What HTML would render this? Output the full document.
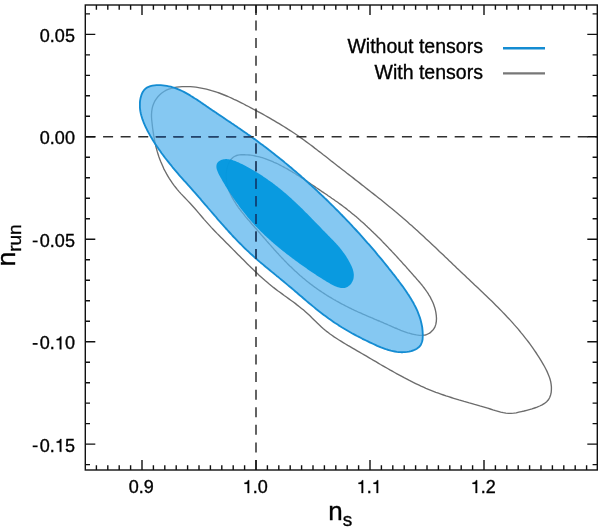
<!DOCTYPE html>
<html><head><meta charset="utf-8"><title>ns nrun</title>
<style>
html,body{margin:0;padding:0;background:#fff;}
body{width:600px;height:527px;overflow:hidden;}
svg{display:block;will-change:transform;}
text{font-family:"Liberation Sans",sans-serif;fill:#000;stroke:#000;stroke-width:0.35px;}
</style></head><body>
<svg width="600" height="527" viewBox="0 0 600 527">
<rect width="600" height="527" fill="#ffffff"/>
<g fill="none" stroke="#6c6c6c" stroke-width="1.35">
<path d="M187.7 86.6 L190.4 86.7 L193.2 86.9 L195.9 87.2 L198.5 87.6 L201.2 88.1 L203.8 88.6 L206.4 89.2 L209.0 89.8 L211.6 90.6 L214.1 91.3 L216.7 92.2 L219.2 93.0 L221.7 94.0 L224.2 95.0 L226.7 96.0 L229.1 97.0 L231.6 98.1 L234.0 99.3 L236.5 100.4 L238.9 101.6 L241.3 102.8 L243.7 104.0 L246.1 105.3 L248.5 106.5 L250.9 107.8 L253.3 109.1 L255.7 110.3 L258.0 111.6 L260.4 112.9 L262.8 114.2 L265.1 115.5 L267.5 116.9 L269.8 118.2 L272.2 119.6 L274.5 120.9 L276.8 122.3 L279.2 123.7 L281.5 125.1 L283.8 126.5 L286.0 127.9 L288.3 129.4 L290.6 130.8 L292.8 132.3 L295.1 133.8 L297.3 135.3 L299.5 136.9 L301.7 138.4 L303.9 140.0 L306.1 141.6 L308.3 143.2 L310.4 144.8 L312.6 146.4 L314.7 148.1 L316.9 149.7 L319.0 151.4 L321.2 153.0 L323.3 154.7 L325.4 156.3 L327.6 158.0 L329.7 159.7 L331.8 161.4 L333.9 163.0 L336.1 164.7 L338.2 166.4 L340.3 168.0 L342.5 169.7 L344.6 171.3 L346.7 173.0 L348.8 174.6 L351.0 176.3 L353.1 177.9 L355.2 179.6 L357.4 181.3 L359.5 182.9 L361.6 184.6 L363.8 186.2 L365.9 187.9 L368.0 189.6 L370.1 191.2 L372.2 192.9 L374.4 194.6 L376.5 196.2 L378.6 197.9 L380.7 199.6 L382.8 201.3 L384.9 203.0 L387.0 204.7 L389.1 206.4 L391.1 208.1 L393.2 209.8 L395.3 211.6 L397.4 213.3 L399.4 215.0 L401.5 216.8 L403.5 218.5 L405.6 220.3 L407.6 222.1 L409.6 223.9 L411.6 225.6 L413.7 227.4 L415.7 229.3 L417.7 231.1 L419.7 232.9 L421.7 234.7 L423.7 236.5 L425.6 238.4 L427.6 240.2 L429.6 242.1 L431.6 243.9 L433.5 245.8 L435.5 247.6 L437.5 249.5 L439.4 251.4 L441.4 253.2 L443.4 255.1 L445.3 257.0 L447.3 258.8 L449.2 260.7 L451.2 262.6 L453.1 264.5 L455.1 266.3 L457.0 268.2 L459.0 270.1 L461.0 271.9 L462.9 273.8 L464.9 275.6 L466.8 277.5 L468.8 279.3 L470.8 281.2 L472.7 283.0 L474.7 284.9 L476.7 286.7 L478.6 288.6 L480.6 290.4 L482.5 292.3 L484.5 294.2 L486.4 296.0 L488.4 297.9 L490.3 299.8 L492.2 301.6 L494.1 303.5 L496.0 305.4 L497.9 307.3 L499.8 309.2 L501.7 311.1 L503.5 313.1 L505.4 315.0 L507.2 317.0 L509.1 318.9 L510.9 320.9 L512.7 322.9 L514.4 324.9 L516.2 326.9 L518.0 328.9 L519.7 331.0 L521.4 333.1 L523.1 335.1 L524.8 337.3 L526.4 339.4 L528.1 341.5 L529.7 343.7 L531.3 345.9 L532.9 348.1 L534.4 350.3 L535.9 352.5 L537.4 354.8 L538.9 357.1 L540.3 359.4 L541.8 361.8 L543.1 364.1 L544.5 366.5 L545.8 369.0 L547.0 371.4 L548.1 373.9 L549.1 376.4 L550.0 379.0 L550.7 381.6 L551.1 384.2 L551.4 386.9 L551.4 389.6 L551.2 392.3 L550.6 395.0 L549.7 397.5 L548.4 399.8 L546.6 401.7 L544.5 403.4 L542.1 404.8 L539.7 406.0 L537.1 407.1 L534.6 408.0 L532.0 408.9 L529.3 409.6 L526.7 410.3 L524.1 411.0 L521.4 411.6 L518.8 412.2 L516.2 412.8 L513.6 413.2 L511.1 413.4 L508.5 413.4 L505.9 413.1 L503.3 412.7 L500.7 412.1 L498.1 411.4 L495.5 410.7 L492.9 409.9 L490.3 409.0 L487.7 408.2 L485.0 407.4 L482.4 406.6 L479.8 405.9 L477.2 405.1 L474.6 404.4 L472.0 403.6 L469.3 402.9 L466.7 402.1 L464.1 401.4 L461.5 400.6 L458.9 399.9 L456.3 399.1 L453.7 398.3 L451.2 397.5 L448.6 396.7 L446.0 395.9 L443.5 395.0 L440.9 394.1 L438.4 393.2 L435.9 392.3 L433.4 391.3 L430.9 390.3 L428.4 389.3 L425.9 388.3 L423.5 387.2 L421.0 386.1 L418.6 384.9 L416.2 383.8 L413.7 382.6 L411.3 381.4 L408.9 380.2 L406.5 378.9 L404.1 377.7 L401.8 376.4 L399.4 375.1 L397.0 373.8 L394.6 372.5 L392.3 371.2 L389.9 369.9 L387.6 368.5 L385.2 367.2 L382.9 365.8 L380.5 364.5 L378.2 363.1 L375.9 361.7 L373.5 360.4 L371.2 359.0 L368.8 357.6 L366.5 356.2 L364.2 354.9 L361.8 353.5 L359.5 352.1 L357.2 350.8 L354.8 349.4 L352.5 348.1 L350.1 346.7 L347.8 345.4 L345.5 344.0 L343.2 342.6 L340.9 341.2 L338.6 339.8 L336.3 338.3 L334.1 336.9 L331.9 335.3 L329.7 333.8 L327.6 332.1 L325.5 330.5 L323.4 328.7 L321.4 326.9 L319.4 325.1 L317.5 323.2 L315.5 321.3 L313.6 319.4 L311.6 317.5 L309.7 315.6 L307.7 313.7 L305.7 311.9 L303.6 310.1 L301.5 308.4 L299.4 306.7 L297.3 305.1 L295.2 303.4 L293.0 301.8 L290.8 300.2 L288.6 298.6 L286.4 297.0 L284.2 295.5 L282.1 293.9 L279.9 292.3 L277.7 290.7 L275.6 289.1 L273.4 287.4 L271.3 285.7 L269.2 284.0 L267.2 282.3 L265.1 280.6 L263.1 278.8 L261.1 277.0 L259.1 275.2 L257.1 273.3 L255.2 271.5 L253.2 269.6 L251.3 267.7 L249.3 265.8 L247.4 263.9 L245.5 262.0 L243.6 260.1 L241.7 258.2 L239.8 256.3 L237.9 254.4 L236.0 252.5 L234.1 250.6 L232.2 248.6 L230.3 246.7 L228.4 244.8 L226.5 242.9 L224.6 241.0 L222.7 239.1 L220.8 237.2 L218.9 235.3 L217.0 233.4 L215.2 231.5 L213.3 229.5 L211.5 227.6 L209.7 225.6 L207.9 223.6 L206.1 221.6 L204.3 219.6 L202.5 217.5 L200.8 215.5 L199.0 213.4 L197.3 211.4 L195.5 209.3 L193.7 207.3 L191.9 205.3 L190.1 203.3 L188.3 201.4 L186.4 199.4 L184.6 197.5 L182.8 195.6 L180.9 193.6 L179.1 191.6 L177.4 189.6 L175.7 187.5 L174.0 185.4 L172.4 183.2 L170.9 180.9 L169.4 178.6 L168.0 176.3 L166.6 173.9 L165.3 171.5 L164.0 169.1 L162.9 166.6 L161.8 164.1 L160.7 161.6 L159.7 159.1 L158.8 156.5 L158.0 154.0 L157.2 151.4 L156.5 148.8 L155.8 146.3 L155.3 143.7 L154.7 141.1 L154.3 138.5 L153.8 135.9 L153.4 133.3 L153.0 130.6 L152.6 128.0 L152.3 125.2 L152.0 122.5 L151.7 119.7 L151.5 117.0 L151.5 114.2 L151.7 111.5 L152.1 108.9 L152.7 106.2 L153.6 103.7 L154.8 101.2 L156.3 98.9 L157.9 96.8 L159.8 94.8 L161.8 93.0 L164.0 91.5 L166.3 90.2 L168.8 89.1 L171.3 88.3 L173.9 87.6 L176.6 87.1 L179.4 86.8 L182.1 86.6 L184.9 86.6Z"/>
<path d="M226.7 170.0 L227.0 168.6 L227.3 167.2 L227.7 165.8 L228.2 164.4 L228.8 163.1 L229.5 161.8 L230.2 160.6 L231.0 159.5 L231.9 158.4 L232.9 157.5 L234.0 156.7 L235.3 156.0 L236.6 155.5 L238.0 155.1 L239.5 154.8 L241.1 154.7 L242.8 154.7 L244.4 154.7 L246.0 154.8 L247.6 154.9 L249.2 155.0 L250.7 155.2 L252.2 155.4 L253.7 155.7 L255.2 156.0 L256.7 156.3 L258.1 156.6 L259.5 156.9 L260.9 157.3 L262.3 157.7 L263.6 158.2 L265.0 158.6 L266.3 159.1 L267.6 159.6 L268.9 160.1 L270.2 160.6 L271.5 161.1 L272.8 161.7 L274.1 162.3 L275.4 162.8 L276.7 163.4 L278.0 164.0 L279.2 164.7 L280.5 165.3 L281.8 166.0 L283.0 166.6 L284.3 167.3 L285.5 168.0 L286.8 168.7 L288.0 169.4 L289.2 170.1 L290.5 170.8 L291.7 171.5 L292.9 172.3 L294.2 173.0 L295.4 173.8 L296.6 174.6 L297.8 175.3 L299.1 176.1 L300.3 176.9 L301.5 177.7 L302.7 178.5 L303.9 179.3 L305.1 180.1 L306.3 180.9 L307.5 181.7 L308.7 182.5 L309.9 183.3 L311.2 184.2 L312.4 185.0 L313.6 185.8 L314.8 186.6 L316.0 187.5 L317.2 188.3 L318.4 189.1 L319.6 189.9 L320.8 190.7 L322.0 191.6 L323.3 192.4 L324.5 193.2 L325.7 194.0 L326.9 194.8 L328.1 195.7 L329.3 196.5 L330.5 197.3 L331.7 198.2 L332.9 199.0 L334.1 199.8 L335.3 200.7 L336.5 201.5 L337.7 202.3 L338.9 203.2 L340.1 204.1 L341.2 204.9 L342.4 205.8 L343.6 206.7 L344.7 207.5 L345.9 208.4 L347.0 209.3 L348.1 210.2 L349.3 211.1 L350.4 212.0 L351.5 212.9 L352.7 213.9 L353.8 214.8 L354.9 215.7 L356.0 216.6 L357.1 217.6 L358.2 218.5 L359.3 219.5 L360.4 220.4 L361.4 221.4 L362.5 222.3 L363.6 223.3 L364.7 224.3 L365.7 225.3 L366.8 226.2 L367.8 227.2 L368.9 228.2 L370.0 229.2 L371.0 230.2 L372.0 231.2 L373.1 232.2 L374.1 233.2 L375.2 234.2 L376.2 235.2 L377.2 236.2 L378.2 237.3 L379.3 238.3 L380.3 239.3 L381.3 240.3 L382.3 241.4 L383.3 242.4 L384.3 243.4 L385.3 244.5 L386.3 245.5 L387.3 246.6 L388.3 247.6 L389.3 248.7 L390.3 249.7 L391.3 250.8 L392.3 251.9 L393.3 252.9 L394.3 254.0 L395.3 255.1 L396.3 256.1 L397.3 257.2 L398.2 258.3 L399.2 259.4 L400.2 260.4 L401.2 261.5 L402.2 262.6 L403.1 263.7 L404.1 264.8 L405.1 265.8 L406.1 266.9 L407.0 268.0 L408.0 269.1 L409.0 270.2 L409.9 271.3 L410.9 272.4 L411.9 273.5 L412.9 274.6 L413.8 275.7 L414.8 276.8 L415.8 277.9 L416.7 279.0 L417.7 280.1 L418.7 281.2 L419.6 282.3 L420.5 283.4 L421.5 284.5 L422.4 285.7 L423.3 286.8 L424.2 288.0 L425.0 289.1 L425.9 290.3 L426.7 291.5 L427.5 292.7 L428.3 293.9 L429.0 295.1 L429.8 296.3 L430.5 297.6 L431.1 298.9 L431.8 300.2 L432.4 301.5 L433.0 302.8 L433.5 304.1 L434.0 305.5 L434.5 306.9 L434.9 308.3 L435.3 309.7 L435.6 311.1 L435.9 312.6 L436.1 314.1 L436.3 315.6 L436.4 317.1 L436.5 318.6 L436.4 320.1 L436.3 321.6 L436.1 323.0 L435.8 324.4 L435.3 325.8 L434.8 327.1 L434.1 328.4 L433.3 329.5 L432.4 330.6 L431.4 331.6 L430.3 332.6 L429.1 333.4 L427.8 334.0 L426.5 334.6 L425.1 335.0 L423.7 335.2 L422.3 335.4 L420.8 335.4 L419.3 335.3 L417.9 335.1 L416.4 334.9 L414.9 334.6 L413.5 334.3 L412.0 334.0 L410.6 333.6 L409.2 333.2 L407.7 332.8 L406.3 332.3 L404.9 331.8 L403.5 331.3 L402.1 330.8 L400.7 330.3 L399.3 329.7 L397.9 329.1 L396.6 328.5 L395.2 328.0 L393.8 327.4 L392.5 326.8 L391.1 326.2 L389.8 325.6 L388.4 325.0 L387.1 324.4 L385.8 323.8 L384.4 323.3 L383.1 322.7 L381.8 322.1 L380.5 321.6 L379.2 321.0 L377.8 320.5 L376.5 319.9 L375.2 319.4 L373.9 318.8 L372.6 318.2 L371.3 317.7 L370.0 317.1 L368.7 316.6 L367.4 316.0 L366.1 315.5 L364.9 314.9 L363.6 314.4 L362.3 313.8 L361.0 313.2 L359.7 312.6 L358.4 312.1 L357.1 311.5 L355.8 310.9 L354.5 310.3 L353.3 309.7 L352.0 309.1 L350.7 308.4 L349.4 307.8 L348.1 307.2 L346.8 306.5 L345.5 305.9 L344.2 305.2 L342.9 304.5 L341.6 303.8 L340.3 303.1 L339.0 302.4 L337.7 301.7 L336.4 301.0 L335.1 300.2 L333.8 299.5 L332.5 298.7 L331.2 297.9 L329.9 297.2 L328.6 296.4 L327.3 295.6 L326.0 294.7 L324.7 293.9 L323.5 293.1 L322.2 292.3 L320.9 291.4 L319.7 290.6 L318.4 289.7 L317.2 288.9 L316.0 288.0 L314.7 287.1 L313.5 286.2 L312.4 285.4 L311.2 284.5 L310.0 283.6 L308.9 282.7 L307.7 281.8 L306.6 280.9 L305.5 280.0 L304.4 279.1 L303.3 278.2 L302.2 277.2 L301.1 276.3 L300.0 275.4 L299.0 274.5 L297.9 273.5 L296.9 272.6 L295.8 271.6 L294.8 270.7 L293.8 269.7 L292.8 268.8 L291.8 267.8 L290.8 266.8 L289.8 265.9 L288.8 264.9 L287.8 263.9 L286.8 262.9 L285.9 261.9 L284.9 260.9 L283.9 259.9 L283.0 258.9 L282.0 257.9 L281.0 256.9 L280.1 255.9 L279.1 254.9 L278.2 253.8 L277.2 252.8 L276.3 251.8 L275.4 250.7 L274.4 249.7 L273.5 248.6 L272.5 247.6 L271.6 246.5 L270.6 245.4 L269.7 244.4 L268.7 243.3 L267.8 242.2 L266.8 241.1 L265.9 240.0 L264.9 238.9 L263.9 237.8 L263.0 236.7 L262.0 235.6 L261.0 234.5 L260.1 233.4 L259.1 232.2 L258.1 231.1 L257.1 230.0 L256.1 228.8 L255.1 227.7 L254.1 226.5 L253.0 225.3 L252.0 224.2 L251.0 223.0 L250.0 221.8 L249.0 220.6 L247.9 219.5 L246.9 218.3 L245.9 217.1 L244.9 215.9 L244.0 214.6 L243.0 213.4 L242.0 212.2 L241.1 211.0 L240.1 209.7 L239.2 208.5 L238.3 207.3 L237.5 206.0 L236.6 204.8 L235.8 203.5 L235.0 202.2 L234.2 201.0 L233.4 199.7 L232.7 198.4 L232.0 197.1 L231.3 195.8 L230.7 194.5 L230.1 193.2 L229.5 191.9 L229.0 190.6 L228.5 189.2 L228.1 187.9 L227.7 186.6 L227.3 185.2 L227.0 183.9 L226.8 182.5 L226.5 181.1 L226.4 179.8 L226.3 178.4 L226.2 177.0 L226.2 175.6 L226.2 174.2 L226.3 172.8 L226.5 171.4Z"/>
</g>
<path d="M158.7 85.1 L160.8 85.2 L162.8 85.3 L164.8 85.6 L166.8 85.9 L168.8 86.3 L170.8 86.7 L172.7 87.3 L174.6 87.9 L176.5 88.6 L178.4 89.4 L180.2 90.2 L182.1 91.0 L183.9 91.9 L185.7 92.9 L187.5 93.9 L189.3 94.9 L191.0 96.0 L192.8 97.1 L194.5 98.2 L196.3 99.3 L198.0 100.4 L199.7 101.6 L201.4 102.8 L203.1 103.9 L204.8 105.1 L206.5 106.3 L208.2 107.4 L209.9 108.6 L211.6 109.7 L213.3 110.9 L215.0 112.0 L216.6 113.1 L218.3 114.2 L220.0 115.4 L221.7 116.5 L223.3 117.6 L225.0 118.7 L226.7 119.9 L228.3 121.0 L230.0 122.1 L231.6 123.2 L233.3 124.3 L234.9 125.4 L236.6 126.6 L238.2 127.7 L239.9 128.8 L241.5 129.9 L243.1 131.1 L244.8 132.2 L246.4 133.3 L248.0 134.5 L249.7 135.6 L251.3 136.8 L252.9 138.0 L254.6 139.1 L256.2 140.3 L257.8 141.5 L259.4 142.7 L261.0 143.9 L262.6 145.1 L264.2 146.3 L265.9 147.5 L267.5 148.7 L269.1 150.0 L270.7 151.2 L272.3 152.5 L273.9 153.7 L275.4 155.0 L277.0 156.2 L278.6 157.5 L280.2 158.8 L281.8 160.0 L283.4 161.3 L284.9 162.6 L286.5 163.9 L288.1 165.2 L289.6 166.5 L291.2 167.8 L292.8 169.2 L294.3 170.5 L295.9 171.8 L297.4 173.1 L299.0 174.5 L300.5 175.8 L302.0 177.2 L303.6 178.5 L305.1 179.9 L306.6 181.2 L308.1 182.6 L309.6 184.0 L311.2 185.4 L312.7 186.7 L314.2 188.1 L315.7 189.5 L317.2 190.9 L318.6 192.3 L320.1 193.7 L321.6 195.1 L323.1 196.5 L324.5 197.9 L326.0 199.3 L327.5 200.7 L328.9 202.1 L330.4 203.6 L331.8 205.0 L333.3 206.4 L334.7 207.8 L336.1 209.3 L337.6 210.7 L339.0 212.1 L340.4 213.6 L341.8 215.0 L343.2 216.5 L344.6 217.9 L346.0 219.3 L347.4 220.8 L348.7 222.2 L350.1 223.7 L351.5 225.1 L352.8 226.6 L354.2 228.1 L355.5 229.5 L356.9 231.0 L358.2 232.4 L359.6 233.9 L360.9 235.4 L362.2 236.8 L363.5 238.3 L364.8 239.8 L366.1 241.3 L367.4 242.8 L368.7 244.2 L370.0 245.7 L371.3 247.2 L372.6 248.7 L373.9 250.2 L375.2 251.7 L376.5 253.3 L377.7 254.8 L379.0 256.3 L380.3 257.8 L381.6 259.4 L382.8 260.9 L384.1 262.5 L385.4 264.1 L386.6 265.6 L387.9 267.2 L389.1 268.8 L390.4 270.4 L391.7 272.0 L392.9 273.6 L394.2 275.2 L395.5 276.8 L396.7 278.5 L398.0 280.1 L399.2 281.8 L400.5 283.5 L401.7 285.1 L403.0 286.8 L404.2 288.5 L405.4 290.2 L406.6 292.0 L407.7 293.7 L408.9 295.4 L410.0 297.2 L411.1 299.0 L412.1 300.8 L413.2 302.5 L414.1 304.4 L415.1 306.2 L416.0 308.0 L416.9 309.9 L417.7 311.7 L418.4 313.6 L419.1 315.5 L419.8 317.4 L420.4 319.3 L420.9 321.2 L421.4 323.2 L421.8 325.2 L422.2 327.1 L422.4 329.1 L422.6 331.1 L422.7 333.2 L422.8 335.2 L422.7 337.3 L422.6 339.3 L422.2 341.2 L421.6 343.0 L420.9 344.7 L419.8 346.3 L418.4 347.6 L416.8 348.7 L415.0 349.7 L413.1 350.5 L411.1 351.1 L409.0 351.6 L407.0 351.9 L404.9 352.1 L402.9 352.2 L400.9 352.2 L398.8 352.1 L396.8 351.9 L394.8 351.5 L392.8 351.1 L390.8 350.7 L388.8 350.1 L386.9 349.5 L384.9 348.8 L383.0 348.1 L381.0 347.4 L379.1 346.6 L377.2 345.8 L375.3 344.9 L373.4 344.0 L371.6 343.2 L369.7 342.3 L367.9 341.4 L366.0 340.5 L364.2 339.7 L362.4 338.8 L360.6 337.8 L358.9 336.9 L357.1 336.0 L355.4 335.1 L353.6 334.1 L351.9 333.2 L350.2 332.2 L348.5 331.2 L346.8 330.2 L345.1 329.2 L343.4 328.2 L341.7 327.2 L340.1 326.2 L338.4 325.1 L336.8 324.0 L335.1 323.0 L333.5 321.9 L331.9 320.8 L330.2 319.6 L328.6 318.5 L327.0 317.3 L325.4 316.1 L323.8 314.9 L322.2 313.7 L320.6 312.5 L319.0 311.3 L317.4 310.0 L315.8 308.7 L314.3 307.4 L312.7 306.1 L311.1 304.8 L309.5 303.5 L308.0 302.2 L306.4 300.9 L304.8 299.5 L303.3 298.2 L301.7 296.8 L300.1 295.5 L298.6 294.2 L297.0 292.8 L295.4 291.5 L293.9 290.1 L292.3 288.8 L290.8 287.5 L289.2 286.2 L287.6 284.9 L286.1 283.6 L284.5 282.3 L283.0 281.0 L281.4 279.7 L279.8 278.4 L278.3 277.1 L276.7 275.9 L275.2 274.6 L273.6 273.3 L272.1 272.1 L270.5 270.8 L269.0 269.5 L267.5 268.3 L265.9 267.0 L264.4 265.7 L262.9 264.4 L261.4 263.2 L259.8 261.9 L258.3 260.6 L256.8 259.3 L255.3 258.0 L253.8 256.6 L252.4 255.3 L250.9 254.0 L249.4 252.6 L248.0 251.2 L246.5 249.9 L245.0 248.5 L243.6 247.1 L242.2 245.7 L240.8 244.2 L239.3 242.8 L237.9 241.4 L236.5 239.9 L235.1 238.4 L233.7 237.0 L232.3 235.5 L231.0 234.0 L229.6 232.5 L228.2 231.0 L226.9 229.5 L225.5 228.0 L224.1 226.4 L222.8 224.9 L221.4 223.4 L220.1 221.8 L218.7 220.3 L217.4 218.8 L216.1 217.2 L214.7 215.7 L213.4 214.1 L212.1 212.6 L210.7 211.0 L209.4 209.5 L208.1 208.0 L206.8 206.4 L205.4 204.9 L204.1 203.3 L202.8 201.8 L201.5 200.3 L200.2 198.7 L198.8 197.2 L197.5 195.7 L196.2 194.2 L194.9 192.7 L193.5 191.2 L192.2 189.7 L190.9 188.2 L189.6 186.7 L188.2 185.2 L186.9 183.7 L185.6 182.2 L184.3 180.8 L183.0 179.3 L181.7 177.8 L180.3 176.3 L179.0 174.8 L177.8 173.3 L176.5 171.8 L175.2 170.3 L173.9 168.8 L172.6 167.3 L171.4 165.7 L170.1 164.2 L168.9 162.6 L167.7 161.1 L166.4 159.5 L165.2 158.0 L164.0 156.4 L162.8 154.8 L161.6 153.2 L160.5 151.5 L159.3 149.9 L158.2 148.3 L157.0 146.6 L155.9 144.9 L154.8 143.2 L153.7 141.5 L152.6 139.7 L151.6 138.0 L150.5 136.2 L149.5 134.4 L148.5 132.6 L147.5 130.8 L146.6 128.9 L145.6 127.0 L144.8 125.1 L143.9 123.2 L143.2 121.3 L142.5 119.4 L141.9 117.4 L141.3 115.5 L140.8 113.5 L140.4 111.5 L140.1 109.5 L139.9 107.5 L139.9 105.5 L139.9 103.5 L140.0 101.4 L140.3 99.4 L140.7 97.4 L141.3 95.4 L142.0 93.5 L142.9 91.8 L144.0 90.2 L145.3 88.8 L146.8 87.7 L148.6 86.9 L150.4 86.2 L152.4 85.7 L154.5 85.4 L156.6 85.2Z" fill="#58b4ed" fill-opacity="0.73" stroke="none"/>
<path d="M216.7 164.3 L217.0 163.5 L217.5 162.8 L218.0 162.1 L218.7 161.5 L219.4 160.9 L220.2 160.5 L221.1 160.1 L221.9 159.7 L222.9 159.5 L223.8 159.3 L224.7 159.2 L225.7 159.1 L226.6 159.1 L227.5 159.2 L228.5 159.2 L229.5 159.4 L230.4 159.6 L231.4 159.8 L232.4 160.1 L233.3 160.4 L234.3 160.7 L235.3 161.1 L236.2 161.4 L237.2 161.9 L238.2 162.3 L239.1 162.7 L240.1 163.2 L241.0 163.7 L242.0 164.1 L242.9 164.6 L243.8 165.1 L244.8 165.6 L245.7 166.1 L246.6 166.6 L247.5 167.0 L248.4 167.5 L249.3 168.0 L250.2 168.5 L251.0 169.0 L251.9 169.5 L252.8 170.0 L253.6 170.5 L254.5 171.0 L255.3 171.5 L256.2 172.0 L257.0 172.5 L257.8 173.0 L258.7 173.5 L259.5 174.1 L260.3 174.6 L261.1 175.1 L261.9 175.6 L262.7 176.1 L263.5 176.7 L264.3 177.2 L265.1 177.7 L265.9 178.2 L266.6 178.8 L267.4 179.3 L268.2 179.9 L268.9 180.4 L269.7 180.9 L270.5 181.5 L271.2 182.0 L272.0 182.6 L272.7 183.1 L273.5 183.7 L274.2 184.2 L275.0 184.8 L275.7 185.4 L276.4 185.9 L277.2 186.5 L277.9 187.1 L278.6 187.7 L279.3 188.2 L280.1 188.8 L280.8 189.4 L281.5 190.0 L282.2 190.6 L282.9 191.2 L283.6 191.8 L284.4 192.4 L285.1 193.0 L285.8 193.6 L286.5 194.2 L287.2 194.8 L287.9 195.4 L288.6 196.1 L289.3 196.7 L290.0 197.3 L290.7 198.0 L291.4 198.6 L292.1 199.2 L292.8 199.9 L293.5 200.5 L294.2 201.2 L294.9 201.8 L295.6 202.5 L296.3 203.2 L297.0 203.8 L297.7 204.5 L298.4 205.2 L299.1 205.8 L299.8 206.5 L300.6 207.2 L301.3 207.9 L302.0 208.6 L302.7 209.3 L303.4 210.0 L304.1 210.7 L304.8 211.4 L305.5 212.2 L306.3 212.9 L307.0 213.6 L307.7 214.3 L308.4 215.1 L309.1 215.8 L309.9 216.5 L310.6 217.3 L311.3 218.0 L312.0 218.7 L312.7 219.5 L313.5 220.2 L314.2 220.9 L314.9 221.7 L315.6 222.4 L316.3 223.1 L317.0 223.9 L317.7 224.6 L318.4 225.3 L319.2 226.1 L319.9 226.8 L320.6 227.5 L321.3 228.2 L321.9 229.0 L322.6 229.7 L323.3 230.4 L324.0 231.1 L324.7 231.8 L325.4 232.5 L326.1 233.2 L326.7 233.8 L327.4 234.5 L328.0 235.2 L328.7 235.9 L329.4 236.5 L330.0 237.2 L330.7 237.9 L331.3 238.5 L331.9 239.2 L332.6 239.8 L333.2 240.5 L333.8 241.1 L334.4 241.8 L335.1 242.4 L335.7 243.1 L336.3 243.8 L336.9 244.4 L337.5 245.1 L338.1 245.8 L338.7 246.5 L339.3 247.1 L339.8 247.8 L340.4 248.5 L341.0 249.3 L341.6 250.0 L342.1 250.7 L342.7 251.4 L343.2 252.2 L343.8 253.0 L344.4 253.7 L344.9 254.5 L345.4 255.3 L346.0 256.1 L346.5 257.0 L347.0 257.8 L347.6 258.7 L348.1 259.5 L348.6 260.4 L349.1 261.4 L349.6 262.3 L350.1 263.2 L350.6 264.2 L351.1 265.2 L351.5 266.1 L351.9 267.1 L352.3 268.1 L352.7 269.1 L353.0 270.1 L353.2 271.1 L353.5 272.1 L353.6 273.1 L353.8 274.1 L353.8 275.1 L353.8 276.1 L353.7 277.1 L353.6 278.0 L353.4 279.0 L353.1 279.9 L352.7 280.8 L352.3 281.7 L351.8 282.6 L351.3 283.4 L350.7 284.2 L350.0 284.9 L349.4 285.5 L348.6 286.1 L347.9 286.7 L347.1 287.1 L346.2 287.5 L345.4 287.7 L344.5 287.9 L343.6 288.0 L342.7 288.1 L341.8 288.0 L340.9 287.9 L339.9 287.8 L339.0 287.5 L338.0 287.3 L337.0 286.9 L336.1 286.6 L335.1 286.2 L334.1 285.7 L333.1 285.3 L332.1 284.8 L331.1 284.2 L330.2 283.7 L329.2 283.1 L328.2 282.6 L327.3 282.0 L326.3 281.4 L325.4 280.8 L324.5 280.3 L323.6 279.7 L322.7 279.2 L321.8 278.6 L320.9 278.1 L320.1 277.5 L319.2 277.0 L318.4 276.4 L317.6 275.9 L316.7 275.4 L315.9 274.8 L315.1 274.3 L314.3 273.8 L313.6 273.3 L312.8 272.8 L312.0 272.2 L311.2 271.7 L310.5 271.2 L309.7 270.7 L309.0 270.2 L308.2 269.7 L307.5 269.2 L306.7 268.6 L306.0 268.1 L305.3 267.6 L304.5 267.1 L303.8 266.6 L303.1 266.1 L302.3 265.5 L301.6 265.0 L300.9 264.5 L300.1 263.9 L299.4 263.4 L298.7 262.9 L297.9 262.3 L297.2 261.8 L296.4 261.3 L295.7 260.7 L294.9 260.2 L294.2 259.6 L293.4 259.0 L292.7 258.5 L291.9 257.9 L291.2 257.3 L290.4 256.8 L289.7 256.2 L288.9 255.6 L288.1 255.0 L287.4 254.5 L286.6 253.9 L285.9 253.3 L285.1 252.7 L284.4 252.1 L283.6 251.5 L282.8 250.9 L282.1 250.3 L281.3 249.7 L280.6 249.1 L279.8 248.4 L279.0 247.8 L278.3 247.2 L277.5 246.6 L276.8 245.9 L276.0 245.3 L275.3 244.7 L274.5 244.0 L273.8 243.4 L273.0 242.7 L272.3 242.1 L271.5 241.4 L270.8 240.8 L270.0 240.1 L269.3 239.5 L268.6 238.8 L267.8 238.1 L267.1 237.4 L266.4 236.8 L265.6 236.1 L264.9 235.4 L264.2 234.7 L263.5 234.0 L262.7 233.3 L262.0 232.6 L261.3 231.9 L260.6 231.2 L259.9 230.5 L259.2 229.8 L258.5 229.1 L257.8 228.4 L257.1 227.6 L256.4 226.9 L255.7 226.2 L255.0 225.4 L254.3 224.7 L253.7 224.0 L253.0 223.2 L252.3 222.5 L251.7 221.7 L251.0 221.0 L250.4 220.2 L249.7 219.4 L249.1 218.7 L248.4 217.9 L247.8 217.2 L247.1 216.4 L246.5 215.6 L245.9 214.9 L245.3 214.1 L244.6 213.3 L244.0 212.5 L243.4 211.8 L242.8 211.0 L242.2 210.2 L241.6 209.5 L241.0 208.7 L240.4 207.9 L239.9 207.2 L239.3 206.4 L238.7 205.6 L238.2 204.8 L237.6 204.1 L237.0 203.3 L236.5 202.6 L235.9 201.8 L235.4 201.0 L234.9 200.3 L234.3 199.5 L233.8 198.8 L233.3 198.0 L232.8 197.3 L232.3 196.5 L231.8 195.8 L231.3 195.0 L230.8 194.3 L230.3 193.6 L229.8 192.8 L229.4 192.1 L228.9 191.4 L228.4 190.7 L228.0 189.9 L227.5 189.2 L227.0 188.5 L226.6 187.7 L226.1 187.0 L225.6 186.2 L225.1 185.4 L224.7 184.6 L224.2 183.8 L223.7 182.9 L223.2 182.1 L222.6 181.2 L222.1 180.3 L221.6 179.3 L221.0 178.3 L220.4 177.3 L219.9 176.3 L219.3 175.3 L218.8 174.2 L218.3 173.2 L217.8 172.1 L217.4 171.1 L217.0 170.0 L216.7 169.0 L216.5 168.0 L216.4 167.0 L216.4 166.1 L216.5 165.2Z" fill="#0097df" fill-opacity="0.93" stroke="none"/>
<path d="M158.7 85.1 L160.8 85.2 L162.8 85.3 L164.8 85.6 L166.8 85.9 L168.8 86.3 L170.8 86.7 L172.7 87.3 L174.6 87.9 L176.5 88.6 L178.4 89.4 L180.2 90.2 L182.1 91.0 L183.9 91.9 L185.7 92.9 L187.5 93.9 L189.3 94.9 L191.0 96.0 L192.8 97.1 L194.5 98.2 L196.3 99.3 L198.0 100.4 L199.7 101.6 L201.4 102.8 L203.1 103.9 L204.8 105.1 L206.5 106.3 L208.2 107.4 L209.9 108.6 L211.6 109.7 L213.3 110.9 L215.0 112.0 L216.6 113.1 L218.3 114.2 L220.0 115.4 L221.7 116.5 L223.3 117.6 L225.0 118.7 L226.7 119.9 L228.3 121.0 L230.0 122.1 L231.6 123.2 L233.3 124.3 L234.9 125.4 L236.6 126.6 L238.2 127.7 L239.9 128.8 L241.5 129.9 L243.1 131.1 L244.8 132.2 L246.4 133.3 L248.0 134.5 L249.7 135.6 L251.3 136.8 L252.9 138.0 L254.6 139.1 L256.2 140.3 L257.8 141.5 L259.4 142.7 L261.0 143.9 L262.6 145.1 L264.2 146.3 L265.9 147.5 L267.5 148.7 L269.1 150.0 L270.7 151.2 L272.3 152.5 L273.9 153.7 L275.4 155.0 L277.0 156.2 L278.6 157.5 L280.2 158.8 L281.8 160.0 L283.4 161.3 L284.9 162.6 L286.5 163.9 L288.1 165.2 L289.6 166.5 L291.2 167.8 L292.8 169.2 L294.3 170.5 L295.9 171.8 L297.4 173.1 L299.0 174.5 L300.5 175.8 L302.0 177.2 L303.6 178.5 L305.1 179.9 L306.6 181.2 L308.1 182.6 L309.6 184.0 L311.2 185.4 L312.7 186.7 L314.2 188.1 L315.7 189.5 L317.2 190.9 L318.6 192.3 L320.1 193.7 L321.6 195.1 L323.1 196.5 L324.5 197.9 L326.0 199.3 L327.5 200.7 L328.9 202.1 L330.4 203.6 L331.8 205.0 L333.3 206.4 L334.7 207.8 L336.1 209.3 L337.6 210.7 L339.0 212.1 L340.4 213.6 L341.8 215.0 L343.2 216.5 L344.6 217.9 L346.0 219.3 L347.4 220.8 L348.7 222.2 L350.1 223.7 L351.5 225.1 L352.8 226.6 L354.2 228.1 L355.5 229.5 L356.9 231.0 L358.2 232.4 L359.6 233.9 L360.9 235.4 L362.2 236.8 L363.5 238.3 L364.8 239.8 L366.1 241.3 L367.4 242.8 L368.7 244.2 L370.0 245.7 L371.3 247.2 L372.6 248.7 L373.9 250.2 L375.2 251.7 L376.5 253.3 L377.7 254.8 L379.0 256.3 L380.3 257.8 L381.6 259.4 L382.8 260.9 L384.1 262.5 L385.4 264.1 L386.6 265.6 L387.9 267.2 L389.1 268.8 L390.4 270.4 L391.7 272.0 L392.9 273.6 L394.2 275.2 L395.5 276.8 L396.7 278.5 L398.0 280.1 L399.2 281.8 L400.5 283.5 L401.7 285.1 L403.0 286.8 L404.2 288.5 L405.4 290.2 L406.6 292.0 L407.7 293.7 L408.9 295.4 L410.0 297.2 L411.1 299.0 L412.1 300.8 L413.2 302.5 L414.1 304.4 L415.1 306.2 L416.0 308.0 L416.9 309.9 L417.7 311.7 L418.4 313.6 L419.1 315.5 L419.8 317.4 L420.4 319.3 L420.9 321.2 L421.4 323.2 L421.8 325.2 L422.2 327.1 L422.4 329.1 L422.6 331.1 L422.7 333.2 L422.8 335.2 L422.7 337.3 L422.6 339.3 L422.2 341.2 L421.6 343.0 L420.9 344.7 L419.8 346.3 L418.4 347.6 L416.8 348.7 L415.0 349.7 L413.1 350.5 L411.1 351.1 L409.0 351.6 L407.0 351.9 L404.9 352.1 L402.9 352.2 L400.9 352.2 L398.8 352.1 L396.8 351.9 L394.8 351.5 L392.8 351.1 L390.8 350.7 L388.8 350.1 L386.9 349.5 L384.9 348.8 L383.0 348.1 L381.0 347.4 L379.1 346.6 L377.2 345.8 L375.3 344.9 L373.4 344.0 L371.6 343.2 L369.7 342.3 L367.9 341.4 L366.0 340.5 L364.2 339.7 L362.4 338.8 L360.6 337.8 L358.9 336.9 L357.1 336.0 L355.4 335.1 L353.6 334.1 L351.9 333.2 L350.2 332.2 L348.5 331.2 L346.8 330.2 L345.1 329.2 L343.4 328.2 L341.7 327.2 L340.1 326.2 L338.4 325.1 L336.8 324.0 L335.1 323.0 L333.5 321.9 L331.9 320.8 L330.2 319.6 L328.6 318.5 L327.0 317.3 L325.4 316.1 L323.8 314.9 L322.2 313.7 L320.6 312.5 L319.0 311.3 L317.4 310.0 L315.8 308.7 L314.3 307.4 L312.7 306.1 L311.1 304.8 L309.5 303.5 L308.0 302.2 L306.4 300.9 L304.8 299.5 L303.3 298.2 L301.7 296.8 L300.1 295.5 L298.6 294.2 L297.0 292.8 L295.4 291.5 L293.9 290.1 L292.3 288.8 L290.8 287.5 L289.2 286.2 L287.6 284.9 L286.1 283.6 L284.5 282.3 L283.0 281.0 L281.4 279.7 L279.8 278.4 L278.3 277.1 L276.7 275.9 L275.2 274.6 L273.6 273.3 L272.1 272.1 L270.5 270.8 L269.0 269.5 L267.5 268.3 L265.9 267.0 L264.4 265.7 L262.9 264.4 L261.4 263.2 L259.8 261.9 L258.3 260.6 L256.8 259.3 L255.3 258.0 L253.8 256.6 L252.4 255.3 L250.9 254.0 L249.4 252.6 L248.0 251.2 L246.5 249.9 L245.0 248.5 L243.6 247.1 L242.2 245.7 L240.8 244.2 L239.3 242.8 L237.9 241.4 L236.5 239.9 L235.1 238.4 L233.7 237.0 L232.3 235.5 L231.0 234.0 L229.6 232.5 L228.2 231.0 L226.9 229.5 L225.5 228.0 L224.1 226.4 L222.8 224.9 L221.4 223.4 L220.1 221.8 L218.7 220.3 L217.4 218.8 L216.1 217.2 L214.7 215.7 L213.4 214.1 L212.1 212.6 L210.7 211.0 L209.4 209.5 L208.1 208.0 L206.8 206.4 L205.4 204.9 L204.1 203.3 L202.8 201.8 L201.5 200.3 L200.2 198.7 L198.8 197.2 L197.5 195.7 L196.2 194.2 L194.9 192.7 L193.5 191.2 L192.2 189.7 L190.9 188.2 L189.6 186.7 L188.2 185.2 L186.9 183.7 L185.6 182.2 L184.3 180.8 L183.0 179.3 L181.7 177.8 L180.3 176.3 L179.0 174.8 L177.8 173.3 L176.5 171.8 L175.2 170.3 L173.9 168.8 L172.6 167.3 L171.4 165.7 L170.1 164.2 L168.9 162.6 L167.7 161.1 L166.4 159.5 L165.2 158.0 L164.0 156.4 L162.8 154.8 L161.6 153.2 L160.5 151.5 L159.3 149.9 L158.2 148.3 L157.0 146.6 L155.9 144.9 L154.8 143.2 L153.7 141.5 L152.6 139.7 L151.6 138.0 L150.5 136.2 L149.5 134.4 L148.5 132.6 L147.5 130.8 L146.6 128.9 L145.6 127.0 L144.8 125.1 L143.9 123.2 L143.2 121.3 L142.5 119.4 L141.9 117.4 L141.3 115.5 L140.8 113.5 L140.4 111.5 L140.1 109.5 L139.9 107.5 L139.9 105.5 L139.9 103.5 L140.0 101.4 L140.3 99.4 L140.7 97.4 L141.3 95.4 L142.0 93.5 L142.9 91.8 L144.0 90.2 L145.3 88.8 L146.8 87.7 L148.6 86.9 L150.4 86.2 L152.4 85.7 L154.5 85.4 L156.6 85.2Z" fill="none" stroke="#148cd2" stroke-width="1.85" stroke-linejoin="round"/>
<defs><clipPath id="cbo"><path d="M158.7 85.1 L160.8 85.2 L162.8 85.3 L164.8 85.6 L166.8 85.9 L168.8 86.3 L170.8 86.7 L172.7 87.3 L174.6 87.9 L176.5 88.6 L178.4 89.4 L180.2 90.2 L182.1 91.0 L183.9 91.9 L185.7 92.9 L187.5 93.9 L189.3 94.9 L191.0 96.0 L192.8 97.1 L194.5 98.2 L196.3 99.3 L198.0 100.4 L199.7 101.6 L201.4 102.8 L203.1 103.9 L204.8 105.1 L206.5 106.3 L208.2 107.4 L209.9 108.6 L211.6 109.7 L213.3 110.9 L215.0 112.0 L216.6 113.1 L218.3 114.2 L220.0 115.4 L221.7 116.5 L223.3 117.6 L225.0 118.7 L226.7 119.9 L228.3 121.0 L230.0 122.1 L231.6 123.2 L233.3 124.3 L234.9 125.4 L236.6 126.6 L238.2 127.7 L239.9 128.8 L241.5 129.9 L243.1 131.1 L244.8 132.2 L246.4 133.3 L248.0 134.5 L249.7 135.6 L251.3 136.8 L252.9 138.0 L254.6 139.1 L256.2 140.3 L257.8 141.5 L259.4 142.7 L261.0 143.9 L262.6 145.1 L264.2 146.3 L265.9 147.5 L267.5 148.7 L269.1 150.0 L270.7 151.2 L272.3 152.5 L273.9 153.7 L275.4 155.0 L277.0 156.2 L278.6 157.5 L280.2 158.8 L281.8 160.0 L283.4 161.3 L284.9 162.6 L286.5 163.9 L288.1 165.2 L289.6 166.5 L291.2 167.8 L292.8 169.2 L294.3 170.5 L295.9 171.8 L297.4 173.1 L299.0 174.5 L300.5 175.8 L302.0 177.2 L303.6 178.5 L305.1 179.9 L306.6 181.2 L308.1 182.6 L309.6 184.0 L311.2 185.4 L312.7 186.7 L314.2 188.1 L315.7 189.5 L317.2 190.9 L318.6 192.3 L320.1 193.7 L321.6 195.1 L323.1 196.5 L324.5 197.9 L326.0 199.3 L327.5 200.7 L328.9 202.1 L330.4 203.6 L331.8 205.0 L333.3 206.4 L334.7 207.8 L336.1 209.3 L337.6 210.7 L339.0 212.1 L340.4 213.6 L341.8 215.0 L343.2 216.5 L344.6 217.9 L346.0 219.3 L347.4 220.8 L348.7 222.2 L350.1 223.7 L351.5 225.1 L352.8 226.6 L354.2 228.1 L355.5 229.5 L356.9 231.0 L358.2 232.4 L359.6 233.9 L360.9 235.4 L362.2 236.8 L363.5 238.3 L364.8 239.8 L366.1 241.3 L367.4 242.8 L368.7 244.2 L370.0 245.7 L371.3 247.2 L372.6 248.7 L373.9 250.2 L375.2 251.7 L376.5 253.3 L377.7 254.8 L379.0 256.3 L380.3 257.8 L381.6 259.4 L382.8 260.9 L384.1 262.5 L385.4 264.1 L386.6 265.6 L387.9 267.2 L389.1 268.8 L390.4 270.4 L391.7 272.0 L392.9 273.6 L394.2 275.2 L395.5 276.8 L396.7 278.5 L398.0 280.1 L399.2 281.8 L400.5 283.5 L401.7 285.1 L403.0 286.8 L404.2 288.5 L405.4 290.2 L406.6 292.0 L407.7 293.7 L408.9 295.4 L410.0 297.2 L411.1 299.0 L412.1 300.8 L413.2 302.5 L414.1 304.4 L415.1 306.2 L416.0 308.0 L416.9 309.9 L417.7 311.7 L418.4 313.6 L419.1 315.5 L419.8 317.4 L420.4 319.3 L420.9 321.2 L421.4 323.2 L421.8 325.2 L422.2 327.1 L422.4 329.1 L422.6 331.1 L422.7 333.2 L422.8 335.2 L422.7 337.3 L422.6 339.3 L422.2 341.2 L421.6 343.0 L420.9 344.7 L419.8 346.3 L418.4 347.6 L416.8 348.7 L415.0 349.7 L413.1 350.5 L411.1 351.1 L409.0 351.6 L407.0 351.9 L404.9 352.1 L402.9 352.2 L400.9 352.2 L398.8 352.1 L396.8 351.9 L394.8 351.5 L392.8 351.1 L390.8 350.7 L388.8 350.1 L386.9 349.5 L384.9 348.8 L383.0 348.1 L381.0 347.4 L379.1 346.6 L377.2 345.8 L375.3 344.9 L373.4 344.0 L371.6 343.2 L369.7 342.3 L367.9 341.4 L366.0 340.5 L364.2 339.7 L362.4 338.8 L360.6 337.8 L358.9 336.9 L357.1 336.0 L355.4 335.1 L353.6 334.1 L351.9 333.2 L350.2 332.2 L348.5 331.2 L346.8 330.2 L345.1 329.2 L343.4 328.2 L341.7 327.2 L340.1 326.2 L338.4 325.1 L336.8 324.0 L335.1 323.0 L333.5 321.9 L331.9 320.8 L330.2 319.6 L328.6 318.5 L327.0 317.3 L325.4 316.1 L323.8 314.9 L322.2 313.7 L320.6 312.5 L319.0 311.3 L317.4 310.0 L315.8 308.7 L314.3 307.4 L312.7 306.1 L311.1 304.8 L309.5 303.5 L308.0 302.2 L306.4 300.9 L304.8 299.5 L303.3 298.2 L301.7 296.8 L300.1 295.5 L298.6 294.2 L297.0 292.8 L295.4 291.5 L293.9 290.1 L292.3 288.8 L290.8 287.5 L289.2 286.2 L287.6 284.9 L286.1 283.6 L284.5 282.3 L283.0 281.0 L281.4 279.7 L279.8 278.4 L278.3 277.1 L276.7 275.9 L275.2 274.6 L273.6 273.3 L272.1 272.1 L270.5 270.8 L269.0 269.5 L267.5 268.3 L265.9 267.0 L264.4 265.7 L262.9 264.4 L261.4 263.2 L259.8 261.9 L258.3 260.6 L256.8 259.3 L255.3 258.0 L253.8 256.6 L252.4 255.3 L250.9 254.0 L249.4 252.6 L248.0 251.2 L246.5 249.9 L245.0 248.5 L243.6 247.1 L242.2 245.7 L240.8 244.2 L239.3 242.8 L237.9 241.4 L236.5 239.9 L235.1 238.4 L233.7 237.0 L232.3 235.5 L231.0 234.0 L229.6 232.5 L228.2 231.0 L226.9 229.5 L225.5 228.0 L224.1 226.4 L222.8 224.9 L221.4 223.4 L220.1 221.8 L218.7 220.3 L217.4 218.8 L216.1 217.2 L214.7 215.7 L213.4 214.1 L212.1 212.6 L210.7 211.0 L209.4 209.5 L208.1 208.0 L206.8 206.4 L205.4 204.9 L204.1 203.3 L202.8 201.8 L201.5 200.3 L200.2 198.7 L198.8 197.2 L197.5 195.7 L196.2 194.2 L194.9 192.7 L193.5 191.2 L192.2 189.7 L190.9 188.2 L189.6 186.7 L188.2 185.2 L186.9 183.7 L185.6 182.2 L184.3 180.8 L183.0 179.3 L181.7 177.8 L180.3 176.3 L179.0 174.8 L177.8 173.3 L176.5 171.8 L175.2 170.3 L173.9 168.8 L172.6 167.3 L171.4 165.7 L170.1 164.2 L168.9 162.6 L167.7 161.1 L166.4 159.5 L165.2 158.0 L164.0 156.4 L162.8 154.8 L161.6 153.2 L160.5 151.5 L159.3 149.9 L158.2 148.3 L157.0 146.6 L155.9 144.9 L154.8 143.2 L153.7 141.5 L152.6 139.7 L151.6 138.0 L150.5 136.2 L149.5 134.4 L148.5 132.6 L147.5 130.8 L146.6 128.9 L145.6 127.0 L144.8 125.1 L143.9 123.2 L143.2 121.3 L142.5 119.4 L141.9 117.4 L141.3 115.5 L140.8 113.5 L140.4 111.5 L140.1 109.5 L139.9 107.5 L139.9 105.5 L139.9 103.5 L140.0 101.4 L140.3 99.4 L140.7 97.4 L141.3 95.4 L142.0 93.5 L142.9 91.8 L144.0 90.2 L145.3 88.8 L146.8 87.7 L148.6 86.9 L150.4 86.2 L152.4 85.7 L154.5 85.4 L156.6 85.2Z"/></clipPath><clipPath id="cbi"><path d="M216.7 164.3 L217.0 163.5 L217.5 162.8 L218.0 162.1 L218.7 161.5 L219.4 160.9 L220.2 160.5 L221.1 160.1 L221.9 159.7 L222.9 159.5 L223.8 159.3 L224.7 159.2 L225.7 159.1 L226.6 159.1 L227.5 159.2 L228.5 159.2 L229.5 159.4 L230.4 159.6 L231.4 159.8 L232.4 160.1 L233.3 160.4 L234.3 160.7 L235.3 161.1 L236.2 161.4 L237.2 161.9 L238.2 162.3 L239.1 162.7 L240.1 163.2 L241.0 163.7 L242.0 164.1 L242.9 164.6 L243.8 165.1 L244.8 165.6 L245.7 166.1 L246.6 166.6 L247.5 167.0 L248.4 167.5 L249.3 168.0 L250.2 168.5 L251.0 169.0 L251.9 169.5 L252.8 170.0 L253.6 170.5 L254.5 171.0 L255.3 171.5 L256.2 172.0 L257.0 172.5 L257.8 173.0 L258.7 173.5 L259.5 174.1 L260.3 174.6 L261.1 175.1 L261.9 175.6 L262.7 176.1 L263.5 176.7 L264.3 177.2 L265.1 177.7 L265.9 178.2 L266.6 178.8 L267.4 179.3 L268.2 179.9 L268.9 180.4 L269.7 180.9 L270.5 181.5 L271.2 182.0 L272.0 182.6 L272.7 183.1 L273.5 183.7 L274.2 184.2 L275.0 184.8 L275.7 185.4 L276.4 185.9 L277.2 186.5 L277.9 187.1 L278.6 187.7 L279.3 188.2 L280.1 188.8 L280.8 189.4 L281.5 190.0 L282.2 190.6 L282.9 191.2 L283.6 191.8 L284.4 192.4 L285.1 193.0 L285.8 193.6 L286.5 194.2 L287.2 194.8 L287.9 195.4 L288.6 196.1 L289.3 196.7 L290.0 197.3 L290.7 198.0 L291.4 198.6 L292.1 199.2 L292.8 199.9 L293.5 200.5 L294.2 201.2 L294.9 201.8 L295.6 202.5 L296.3 203.2 L297.0 203.8 L297.7 204.5 L298.4 205.2 L299.1 205.8 L299.8 206.5 L300.6 207.2 L301.3 207.9 L302.0 208.6 L302.7 209.3 L303.4 210.0 L304.1 210.7 L304.8 211.4 L305.5 212.2 L306.3 212.9 L307.0 213.6 L307.7 214.3 L308.4 215.1 L309.1 215.8 L309.9 216.5 L310.6 217.3 L311.3 218.0 L312.0 218.7 L312.7 219.5 L313.5 220.2 L314.2 220.9 L314.9 221.7 L315.6 222.4 L316.3 223.1 L317.0 223.9 L317.7 224.6 L318.4 225.3 L319.2 226.1 L319.9 226.8 L320.6 227.5 L321.3 228.2 L321.9 229.0 L322.6 229.7 L323.3 230.4 L324.0 231.1 L324.7 231.8 L325.4 232.5 L326.1 233.2 L326.7 233.8 L327.4 234.5 L328.0 235.2 L328.7 235.9 L329.4 236.5 L330.0 237.2 L330.7 237.9 L331.3 238.5 L331.9 239.2 L332.6 239.8 L333.2 240.5 L333.8 241.1 L334.4 241.8 L335.1 242.4 L335.7 243.1 L336.3 243.8 L336.9 244.4 L337.5 245.1 L338.1 245.8 L338.7 246.5 L339.3 247.1 L339.8 247.8 L340.4 248.5 L341.0 249.3 L341.6 250.0 L342.1 250.7 L342.7 251.4 L343.2 252.2 L343.8 253.0 L344.4 253.7 L344.9 254.5 L345.4 255.3 L346.0 256.1 L346.5 257.0 L347.0 257.8 L347.6 258.7 L348.1 259.5 L348.6 260.4 L349.1 261.4 L349.6 262.3 L350.1 263.2 L350.6 264.2 L351.1 265.2 L351.5 266.1 L351.9 267.1 L352.3 268.1 L352.7 269.1 L353.0 270.1 L353.2 271.1 L353.5 272.1 L353.6 273.1 L353.8 274.1 L353.8 275.1 L353.8 276.1 L353.7 277.1 L353.6 278.0 L353.4 279.0 L353.1 279.9 L352.7 280.8 L352.3 281.7 L351.8 282.6 L351.3 283.4 L350.7 284.2 L350.0 284.9 L349.4 285.5 L348.6 286.1 L347.9 286.7 L347.1 287.1 L346.2 287.5 L345.4 287.7 L344.5 287.9 L343.6 288.0 L342.7 288.1 L341.8 288.0 L340.9 287.9 L339.9 287.8 L339.0 287.5 L338.0 287.3 L337.0 286.9 L336.1 286.6 L335.1 286.2 L334.1 285.7 L333.1 285.3 L332.1 284.8 L331.1 284.2 L330.2 283.7 L329.2 283.1 L328.2 282.6 L327.3 282.0 L326.3 281.4 L325.4 280.8 L324.5 280.3 L323.6 279.7 L322.7 279.2 L321.8 278.6 L320.9 278.1 L320.1 277.5 L319.2 277.0 L318.4 276.4 L317.6 275.9 L316.7 275.4 L315.9 274.8 L315.1 274.3 L314.3 273.8 L313.6 273.3 L312.8 272.8 L312.0 272.2 L311.2 271.7 L310.5 271.2 L309.7 270.7 L309.0 270.2 L308.2 269.7 L307.5 269.2 L306.7 268.6 L306.0 268.1 L305.3 267.6 L304.5 267.1 L303.8 266.6 L303.1 266.1 L302.3 265.5 L301.6 265.0 L300.9 264.5 L300.1 263.9 L299.4 263.4 L298.7 262.9 L297.9 262.3 L297.2 261.8 L296.4 261.3 L295.7 260.7 L294.9 260.2 L294.2 259.6 L293.4 259.0 L292.7 258.5 L291.9 257.9 L291.2 257.3 L290.4 256.8 L289.7 256.2 L288.9 255.6 L288.1 255.0 L287.4 254.5 L286.6 253.9 L285.9 253.3 L285.1 252.7 L284.4 252.1 L283.6 251.5 L282.8 250.9 L282.1 250.3 L281.3 249.7 L280.6 249.1 L279.8 248.4 L279.0 247.8 L278.3 247.2 L277.5 246.6 L276.8 245.9 L276.0 245.3 L275.3 244.7 L274.5 244.0 L273.8 243.4 L273.0 242.7 L272.3 242.1 L271.5 241.4 L270.8 240.8 L270.0 240.1 L269.3 239.5 L268.6 238.8 L267.8 238.1 L267.1 237.4 L266.4 236.8 L265.6 236.1 L264.9 235.4 L264.2 234.7 L263.5 234.0 L262.7 233.3 L262.0 232.6 L261.3 231.9 L260.6 231.2 L259.9 230.5 L259.2 229.8 L258.5 229.1 L257.8 228.4 L257.1 227.6 L256.4 226.9 L255.7 226.2 L255.0 225.4 L254.3 224.7 L253.7 224.0 L253.0 223.2 L252.3 222.5 L251.7 221.7 L251.0 221.0 L250.4 220.2 L249.7 219.4 L249.1 218.7 L248.4 217.9 L247.8 217.2 L247.1 216.4 L246.5 215.6 L245.9 214.9 L245.3 214.1 L244.6 213.3 L244.0 212.5 L243.4 211.8 L242.8 211.0 L242.2 210.2 L241.6 209.5 L241.0 208.7 L240.4 207.9 L239.9 207.2 L239.3 206.4 L238.7 205.6 L238.2 204.8 L237.6 204.1 L237.0 203.3 L236.5 202.6 L235.9 201.8 L235.4 201.0 L234.9 200.3 L234.3 199.5 L233.8 198.8 L233.3 198.0 L232.8 197.3 L232.3 196.5 L231.8 195.8 L231.3 195.0 L230.8 194.3 L230.3 193.6 L229.8 192.8 L229.4 192.1 L228.9 191.4 L228.4 190.7 L228.0 189.9 L227.5 189.2 L227.0 188.5 L226.6 187.7 L226.1 187.0 L225.6 186.2 L225.1 185.4 L224.7 184.6 L224.2 183.8 L223.7 182.9 L223.2 182.1 L222.6 181.2 L222.1 180.3 L221.6 179.3 L221.0 178.3 L220.4 177.3 L219.9 176.3 L219.3 175.3 L218.8 174.2 L218.3 173.2 L217.8 172.1 L217.4 171.1 L217.0 170.0 L216.7 169.0 L216.5 168.0 L216.4 167.0 L216.4 166.1 L216.5 165.2Z"/></clipPath>
<g id="dl" stroke-width="1.5" fill="none" stroke-dasharray="10 7.58">
<path d="M256.00 470.0 V5.0"/>
<path d="M85.50 136.80 H597.3"/>
</g></defs>
<use href="#dl" stroke="#303030"/>
<use href="#dl" stroke="#1e4472" clip-path="url(#cbo)"/>
<use href="#dl" stroke="#0a4a85" clip-path="url(#cbi)"/>
<g stroke="#111" stroke-width="1.4" fill="none">
<rect x="85.3" y="5.0" width="512.00" height="465.00"/>
<path d="M96.40 5.00 v4.70 M96.40 470.00 v-4.70 M107.80 5.00 v4.70 M107.80 470.00 v-4.70 M119.20 5.00 v4.70 M119.20 470.00 v-4.70 M130.60 5.00 v4.70 M130.60 470.00 v-4.70 M142.00 5.00 v10.00 M142.00 470.00 v-10.00 M153.40 5.00 v4.70 M153.40 470.00 v-4.70 M164.80 5.00 v4.70 M164.80 470.00 v-4.70 M176.20 5.00 v4.70 M176.20 470.00 v-4.70 M187.60 5.00 v4.70 M187.60 470.00 v-4.70 M199.00 5.00 v4.70 M199.00 470.00 v-4.70 M210.40 5.00 v4.70 M210.40 470.00 v-4.70 M221.80 5.00 v4.70 M221.80 470.00 v-4.70 M233.20 5.00 v4.70 M233.20 470.00 v-4.70 M244.60 5.00 v4.70 M244.60 470.00 v-4.70 M256.00 5.00 v10.00 M256.00 470.00 v-10.00 M267.40 5.00 v4.70 M267.40 470.00 v-4.70 M278.80 5.00 v4.70 M278.80 470.00 v-4.70 M290.20 5.00 v4.70 M290.20 470.00 v-4.70 M301.60 5.00 v4.70 M301.60 470.00 v-4.70 M313.00 5.00 v4.70 M313.00 470.00 v-4.70 M324.40 5.00 v4.70 M324.40 470.00 v-4.70 M335.80 5.00 v4.70 M335.80 470.00 v-4.70 M347.20 5.00 v4.70 M347.20 470.00 v-4.70 M358.60 5.00 v4.70 M358.60 470.00 v-4.70 M370.00 5.00 v10.00 M370.00 470.00 v-10.00 M381.40 5.00 v4.70 M381.40 470.00 v-4.70 M392.80 5.00 v4.70 M392.80 470.00 v-4.70 M404.20 5.00 v4.70 M404.20 470.00 v-4.70 M415.60 5.00 v4.70 M415.60 470.00 v-4.70 M427.00 5.00 v4.70 M427.00 470.00 v-4.70 M438.40 5.00 v4.70 M438.40 470.00 v-4.70 M449.80 5.00 v4.70 M449.80 470.00 v-4.70 M461.20 5.00 v4.70 M461.20 470.00 v-4.70 M472.60 5.00 v4.70 M472.60 470.00 v-4.70 M484.00 5.00 v10.00 M484.00 470.00 v-10.00 M495.40 5.00 v4.70 M495.40 470.00 v-4.70 M506.80 5.00 v4.70 M506.80 470.00 v-4.70 M518.20 5.00 v4.70 M518.20 470.00 v-4.70 M529.60 5.00 v4.70 M529.60 470.00 v-4.70 M541.00 5.00 v4.70 M541.00 470.00 v-4.70 M552.40 5.00 v4.70 M552.40 470.00 v-4.70 M563.80 5.00 v4.70 M563.80 470.00 v-4.70 M575.20 5.00 v4.70 M575.20 470.00 v-4.70 M586.60 5.00 v4.70 M586.60 470.00 v-4.70 M85.30 464.64 h4.70 M597.30 464.64 h-4.70 M85.30 444.15 h10.00 M597.30 444.15 h-10.00 M85.30 423.66 h4.70 M597.30 423.66 h-4.70 M85.30 403.17 h4.70 M597.30 403.17 h-4.70 M85.30 382.68 h4.70 M597.30 382.68 h-4.70 M85.30 362.19 h4.70 M597.30 362.19 h-4.70 M85.30 341.70 h10.00 M597.30 341.70 h-10.00 M85.30 321.21 h4.70 M597.30 321.21 h-4.70 M85.30 300.72 h4.70 M597.30 300.72 h-4.70 M85.30 280.23 h4.70 M597.30 280.23 h-4.70 M85.30 259.74 h4.70 M597.30 259.74 h-4.70 M85.30 239.25 h10.00 M597.30 239.25 h-10.00 M85.30 218.76 h4.70 M597.30 218.76 h-4.70 M85.30 198.27 h4.70 M597.30 198.27 h-4.70 M85.30 177.78 h4.70 M597.30 177.78 h-4.70 M85.30 157.29 h4.70 M597.30 157.29 h-4.70 M85.30 136.80 h10.00 M597.30 136.80 h-10.00 M85.30 116.31 h4.70 M597.30 116.31 h-4.70 M85.30 95.82 h4.70 M597.30 95.82 h-4.70 M85.30 75.33 h4.70 M597.30 75.33 h-4.70 M85.30 54.84 h4.70 M597.30 54.84 h-4.70 M85.30 34.35 h10.00 M597.30 34.35 h-10.00 M85.30 13.86 h4.70 M597.30 13.86 h-4.70"/>
</g>
<g font-size="18px"><text x="128.69" y="493.00">0.9</text><path d="M249.15 493.00L249.15 480.24L248.09 480.24C247.77 481.62 246.56 482.42 244.51 482.70L244.51 483.89L247.57 483.89L247.57 493.00Z" fill="#000" stroke="#000" stroke-width="0.3"/><text x="252.70" y="493.00">.0</text><path d="M363.15 493.00L363.15 480.24L362.09 480.24C361.77 481.62 360.56 482.42 358.51 482.70L358.51 483.89L361.57 483.89L361.57 493.00Z" fill="#000" stroke="#000" stroke-width="0.3"/><text x="366.70" y="493.00">.</text><path d="M378.16 493.00L378.16 480.24L377.10 480.24C376.78 481.62 375.57 482.42 373.52 482.70L373.52 483.89L376.58 483.89L376.58 493.00Z" fill="#000" stroke="#000" stroke-width="0.3"/><path d="M477.15 493.00L477.15 480.24L476.09 480.24C475.77 481.62 474.56 482.42 472.51 482.70L472.51 483.89L475.57 483.89L475.57 493.00Z" fill="#000" stroke="#000" stroke-width="0.3"/><text x="480.70" y="493.00">.2</text><text x="39.87" y="41.95">0.05</text><text x="39.87" y="144.40">0.00</text><text x="39.87" y="246.85">0.05</text><path d="M32.7 241.45H37.6" stroke="#000" stroke-width="1.7" fill="none"/><text x="39.87" y="349.30">0.</text><path d="M61.35 349.30L61.35 336.54L60.28 336.54C59.96 337.92 58.75 338.72 56.70 339.00L56.70 340.19L59.76 340.19L59.76 349.30Z" fill="#000" stroke="#000" stroke-width="0.3"/><text x="64.89" y="349.30">0</text><path d="M32.7 343.90H37.6" stroke="#000" stroke-width="1.7" fill="none"/><text x="39.87" y="451.75">0.</text><path d="M61.35 451.75L61.35 438.99L60.28 438.99C59.96 440.37 58.75 441.17 56.70 441.45L56.70 442.64L59.76 442.64L59.76 451.75Z" fill="#000" stroke="#000" stroke-width="0.3"/><text x="64.89" y="451.75">5</text><path d="M32.7 446.35H37.6" stroke="#000" stroke-width="1.7" fill="none"/></g>
<g font-size="19.5px">
<text x="482.9" y="52.8" text-anchor="end">Without tensors</text>
<text x="482.9" y="79.3" text-anchor="end">With tensors</text>
</g>
<path d="M503 48.2H545" stroke="#148cd2" stroke-width="2.4" fill="none"/>
<path d="M503 73.4H545" stroke="#777" stroke-width="2.4" fill="none"/>
<text font-size="26px" x="328.3" y="520">n<tspan font-size="19px" dy="6">s</tspan></text>
<g transform="translate(14.6 266.3) rotate(-90)"><text font-size="26px" x="0" y="0">n<tspan font-size="19px" dy="6.6">run</tspan></text></g>
</svg>
</body></html>
